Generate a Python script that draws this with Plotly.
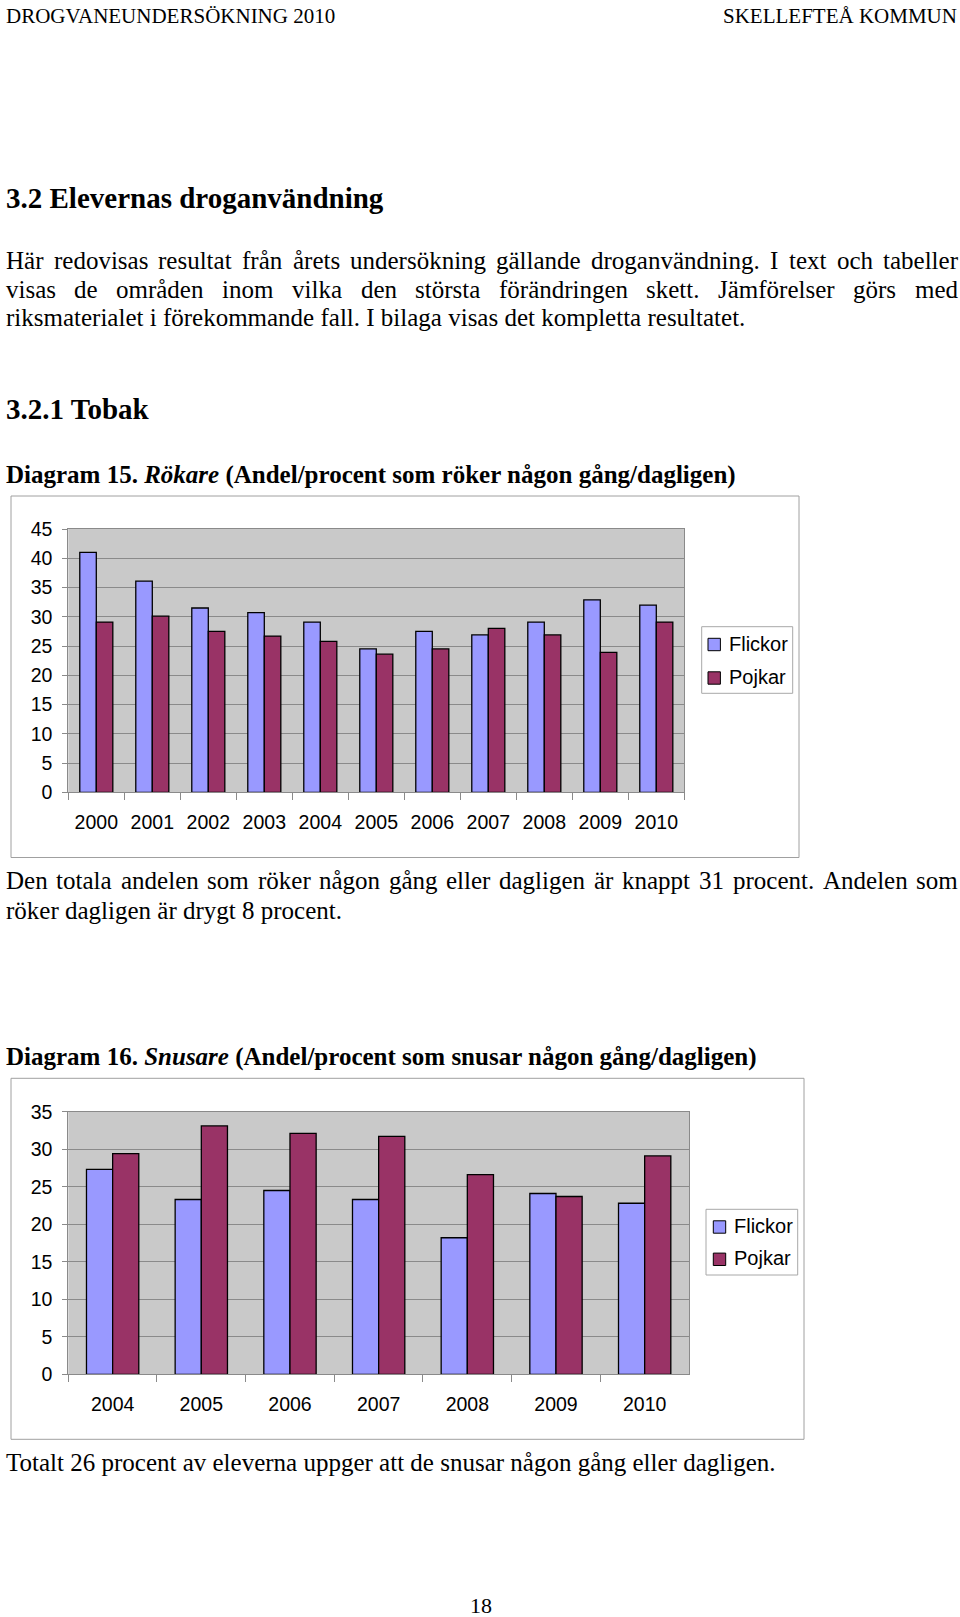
import plotly.graph_objects as go

# ---------------- data ----------------
years_rok = ["2000", "2001", "2002", "2003", "2004", "2005", "2006", "2007", "2008", "2009", "2010"]
rok_flickor = [41.0, 36.1, 31.5, 30.7, 29.1, 24.5, 27.5, 26.9, 29.1, 32.9, 32.0]
rok_pojkar = [29.1, 30.1, 27.5, 26.7, 25.8, 23.6, 24.5, 28.0, 26.9, 23.9, 29.1]

years_snus = ["2004", "2005", "2006", "2007", "2008", "2009", "2010"]
snus_flickor = [27.3, 23.3, 24.5, 23.3, 18.2, 24.1, 22.8]
snus_pojkar = [29.4, 33.1, 32.1, 31.7, 26.6, 23.7, 29.1]

series_names = ["Flickor", "Pojkar"]
series_colors = ["#9999FF", "#993366"]

# ---------------- page geometry helpers ----------------
W, H = 960, 1617


def px(x):
    return x / W


def py(y):
    return 1 - y / H


SERIF = "Liberation Serif, Times New Roman, serif"
SANS = "Liberation Sans, Arial, sans-serif"

# Times New Roman advance widths (1/1000 em) for justification
TNR = {' ': 250, '.': 250, ',': 250, '(': 333, ')': 333, '/': 278, ':': 278,
       'A': 722, 'B': 667, 'C': 667, 'D': 722, 'E': 611, 'F': 556, 'G': 722, 'H': 722,
       'I': 333, 'J': 389, 'K': 722, 'L': 611, 'M': 889, 'N': 722, 'O': 722, 'P': 556,
       'Q': 722, 'R': 667, 'S': 556, 'T': 611, 'U': 722, 'V': 722, 'W': 944, 'X': 722,
       'Y': 722, 'Z': 611, 'a': 444, 'b': 500, 'c': 444, 'd': 500, 'e': 444, 'f': 333,
       'g': 500, 'h': 500, 'i': 278, 'j': 278, 'k': 500, 'l': 278, 'm': 778, 'n': 500,
       'o': 500, 'p': 500, 'q': 500, 'r': 333, 's': 389, 't': 278, 'u': 500, 'v': 500,
       'w': 722, 'x': 500, 'y': 500, 'z': 444, 'å': 444, 'ä': 444, 'ö': 500,
       'Å': 722, 'Ä': 722, 'Ö': 722}
for d in "0123456789":
    TNR[d] = 500


def tw(s, size):
    return sum(TNR.get(c, 500) for c in s) * size / 1000.0


annotations = []


def text(s, x, y, size, anchor="left", font=SERIF):
    annotations.append(dict(text=s, x=px(x), y=py(y), xref="paper", yref="paper",
                            xanchor=anchor, yanchor="middle", showarrow=False,
                            font=dict(family=font, size=size, color="black")))


def justified(line, x0, x1, y, size):
    words = line.split(" ")
    natural = sum(tw(w, size) for w in words)
    gap = (x1 - x0 - natural) / (len(words) - 1)
    x = x0
    for w in words:
        text(w, x, y, size)
        x += tw(w, size) + gap


BODY = 25
LEFT = 4
RIGHT = 956

# header
text("DROGVANEUNDERSÖKNING 2010", LEFT, 16, 21)
text("SKELLEFTEÅ KOMMUN", 959, 16, 21, anchor="right")

text("<b>3.2 Elevernas droganvändning</b>", LEFT, 198, 29)
justified("Här redovisas resultat från årets undersökning gällande droganvändning. I text och tabeller",
          LEFT, RIGHT, 260, BODY)
justified("visas de områden inom vilka den största förändringen skett. Jämförelser görs med",
          LEFT, RIGHT, 289, BODY)
text("riksmaterialet i förekommande fall. I bilaga visas det kompletta resultatet.", LEFT, 317.5, BODY)

text("<b>3.2.1 Tobak</b>", LEFT, 409, 29)
text("<b>Diagram 15. <i>Rökare</i> (Andel/procent som röker någon gång/dagligen)</b>", LEFT, 475, BODY)

justified("Den totala andelen som röker någon gång eller dagligen är knappt 31 procent. Andelen som",
          LEFT, RIGHT, 880.5, BODY)
text("röker dagligen är drygt 8 procent.", LEFT, 910.5, BODY)

text("<b>Diagram 16. <i>Snusare</i> (Andel/procent som snusar någon gång/dagligen)</b>", LEFT, 1057, BODY)
text("Totalt 26 procent av eleverna uppger att de snusar någon gång eller dagligen.", LEFT, 1462, BODY)
text("18", 480.5, 1605, 22, anchor="center")

# ---------------- figure ----------------
fig = go.Figure()

for name, col, vals in zip(series_names, series_colors, [rok_flickor, rok_pojkar]):
    fig.add_trace(go.Bar(x=years_rok, y=vals, name=name, marker=dict(color=col, line=dict(color="black", width=1.3)),
                         xaxis="x", yaxis="y", showlegend=False))
for name, col, vals in zip(series_names, series_colors, [snus_flickor, snus_pojkar]):
    fig.add_trace(go.Bar(x=years_snus, y=vals, name=name, marker=dict(color=col, line=dict(color="black", width=1.3)),
                         xaxis="x2", yaxis="y2", showlegend=False))

AXIS_GRAY = "#8a8a8a"
tickfont = dict(family=SANS, size=19.5, color="black")

xcommon = dict(type="category", tickson="boundaries", ticks="outside", ticklen=7, tickcolor=AXIS_GRAY,
               showline=True, linecolor=AXIS_GRAY, linewidth=1, mirror=True, showgrid=False,
               tickfont=tickfont, ticklabelstandoff=12, fixedrange=True, automargin=False)
ycommon = dict(ticks="outside", ticklen=5, tickcolor=AXIS_GRAY, showline=True, linecolor=AXIS_GRAY,
               linewidth=1, mirror=True, showgrid=True, gridcolor=AXIS_GRAY, gridwidth=1, zeroline=False,
               dtick=5, tick0=0, tickfont=tickfont, ticklabelstandoff=6, fixedrange=True, automargin=False)

# chart boxes (pixel positions on page)
top_plot = (68.3, 529, 684.3, 792.3)
bot_plot = (68.3, 1111.7, 689, 1374.3)

fig.update_layout(
    width=W, height=H, autosize=False,
    margin=dict(l=0, r=0, t=0, b=0, pad=0, autoexpand=False),
    paper_bgcolor="white", plot_bgcolor="#c9c9c9",
    barmode="group", bargap=0.41, bargroupgap=0,
    showlegend=False,
    xaxis=dict(xcommon, domain=[px(top_plot[0]), px(top_plot[2])], anchor="y"),
    yaxis=dict(ycommon, domain=[py(top_plot[3]), py(top_plot[1])], range=[0, 45], anchor="x"),
    xaxis2=dict(xcommon, domain=[px(bot_plot[0]), px(bot_plot[2])], anchor="y2"),
    yaxis2=dict(ycommon, domain=[py(bot_plot[3]), py(bot_plot[1])], range=[0, 35], anchor="x2"),
)

shapes = []


def rect(x0, y0, x1, y1, line="#a0a0a0", fill="rgba(0,0,0,0)", lw=1):
    shapes.append(dict(type="rect", xref="paper", yref="paper", x0=px(x0), x1=px(x1), y0=py(y0), y1=py(y1),
                       line=dict(color=line, width=lw), fillcolor=fill, layer="above"))


# outer chart frames
rect(11, 496, 799, 857.5)
rect(11, 1078.3, 804, 1439.3)


def legend(x0, y0, x1, y1, sq_x, sq_ys, txt_x, txt_ys):
    rect(x0, y0, x1, y1, line="#a8a8a8", fill="white")
    for name, col, sy, ty in zip(series_names, series_colors, sq_ys, txt_ys):
        rect(sq_x, sy - 6.2, sq_x + 12.4, sy + 6.2, line="black", fill=col, lw=1)
        text(name, txt_x, ty, 20, font=SANS)


legend(701.7, 626.7, 792.7, 693.3, 708, [644.5, 678], 727, [643.5, 676.5])
legend(706, 1209.3, 797.7, 1275, 713.3, [1227, 1259.3], 731.5, [1225.5, 1258])

fig.update_layout(shapes=shapes, annotations=annotations)

fig.write_html("out.html")
